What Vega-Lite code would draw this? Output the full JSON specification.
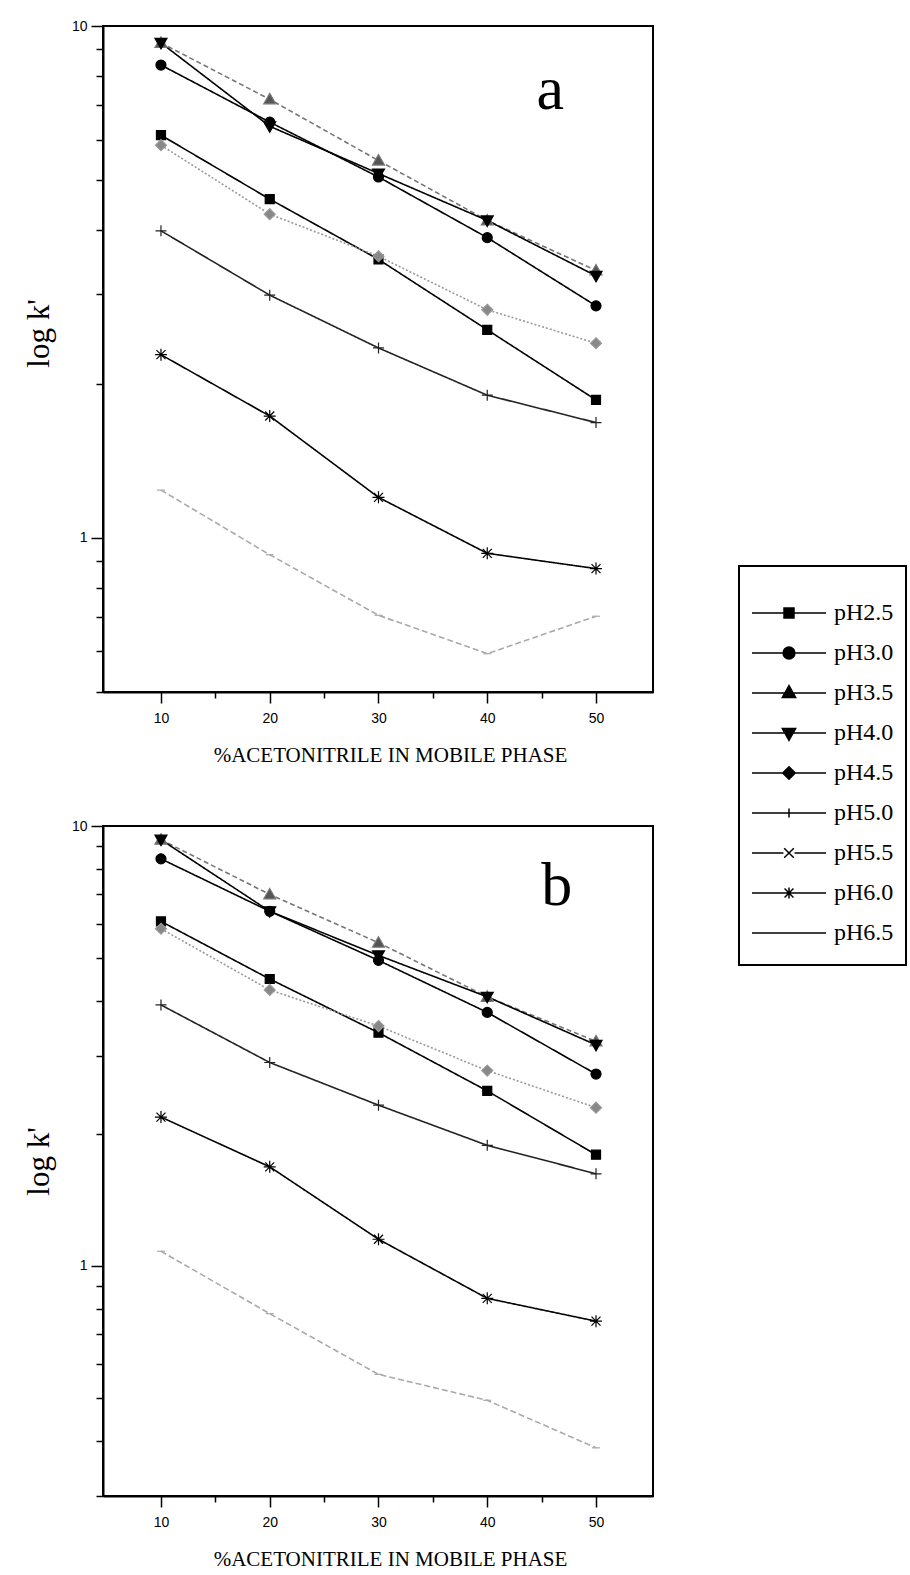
{
  "$schema": "https://vega.github.io/schema/vega-lite/v6.json",
  "background": "white",
  "padding": {"left": 22, "top": 18, "right": 2, "bottom": 2},
  "datasets": {
    "a": [
      {"pH": "pH2.5", "acn": 10, "k": 6.12}, {"pH": "pH2.5", "acn": 20, "k": 4.59}, {"pH": "pH2.5", "acn": 30, "k": 3.50}, {"pH": "pH2.5", "acn": 40, "k": 2.55}, {"pH": "pH2.5", "acn": 50, "k": 1.86},
      {"pH": "pH3.0", "acn": 10, "k": 8.39}, {"pH": "pH3.0", "acn": 20, "k": 6.49}, {"pH": "pH3.0", "acn": 30, "k": 5.07}, {"pH": "pH3.0", "acn": 40, "k": 3.86}, {"pH": "pH3.0", "acn": 50, "k": 2.84},
      {"pH": "pH3.5", "acn": 10, "k": 9.27}, {"pH": "pH3.5", "acn": 20, "k": 7.19}, {"pH": "pH3.5", "acn": 30, "k": 5.46}, {"pH": "pH3.5", "acn": 40, "k": 4.17}, {"pH": "pH3.5", "acn": 50, "k": 3.33},
      {"pH": "pH4.0", "acn": 10, "k": 9.27}, {"pH": "pH4.0", "acn": 20, "k": 6.37}, {"pH": "pH4.0", "acn": 30, "k": 5.15}, {"pH": "pH4.0", "acn": 40, "k": 4.17}, {"pH": "pH4.0", "acn": 50, "k": 3.25},
      {"pH": "pH4.5", "acn": 10, "k": 5.85}, {"pH": "pH4.5", "acn": 20, "k": 4.29}, {"pH": "pH4.5", "acn": 30, "k": 3.55}, {"pH": "pH4.5", "acn": 40, "k": 2.79}, {"pH": "pH4.5", "acn": 50, "k": 2.40},
      {"pH": "pH5.0", "acn": 10, "k": 3.98}, {"pH": "pH5.0", "acn": 20, "k": 2.98}, {"pH": "pH5.0", "acn": 30, "k": 2.35}, {"pH": "pH5.0", "acn": 40, "k": 1.90}, {"pH": "pH5.0", "acn": 50, "k": 1.68},
      {"pH": "pH6.0", "acn": 10, "k": 2.28}, {"pH": "pH6.0", "acn": 20, "k": 1.73}, {"pH": "pH6.0", "acn": 30, "k": 1.20}, {"pH": "pH6.0", "acn": 40, "k": 0.933}, {"pH": "pH6.0", "acn": 50, "k": 0.871},
      {"pH": "pH6.5", "acn": 10, "k": 1.24}, {"pH": "pH6.5", "acn": 20, "k": 0.927}, {"pH": "pH6.5", "acn": 30, "k": 0.706}, {"pH": "pH6.5", "acn": 40, "k": 0.594}, {"pH": "pH6.5", "acn": 50, "k": 0.703}
    ],
    "b": [
      {"pH": "pH2.5", "acn": 10, "k": 6.07}, {"pH": "pH2.5", "acn": 20, "k": 4.49}, {"pH": "pH2.5", "acn": 30, "k": 3.39}, {"pH": "pH2.5", "acn": 40, "k": 2.50}, {"pH": "pH2.5", "acn": 50, "k": 1.79},
      {"pH": "pH3.0", "acn": 10, "k": 8.42}, {"pH": "pH3.0", "acn": 20, "k": 6.40}, {"pH": "pH3.0", "acn": 30, "k": 4.95}, {"pH": "pH3.0", "acn": 40, "k": 3.77}, {"pH": "pH3.0", "acn": 50, "k": 2.73},
      {"pH": "pH3.5", "acn": 10, "k": 9.31}, {"pH": "pH3.5", "acn": 20, "k": 6.99}, {"pH": "pH3.5", "acn": 30, "k": 5.43}, {"pH": "pH3.5", "acn": 40, "k": 4.09}, {"pH": "pH3.5", "acn": 50, "k": 3.24},
      {"pH": "pH4.0", "acn": 10, "k": 9.31}, {"pH": "pH4.0", "acn": 20, "k": 6.40}, {"pH": "pH4.0", "acn": 30, "k": 5.08}, {"pH": "pH4.0", "acn": 40, "k": 4.09}, {"pH": "pH4.0", "acn": 50, "k": 3.18},
      {"pH": "pH4.5", "acn": 10, "k": 5.84}, {"pH": "pH4.5", "acn": 20, "k": 4.24}, {"pH": "pH4.5", "acn": 30, "k": 3.51}, {"pH": "pH4.5", "acn": 40, "k": 2.78}, {"pH": "pH4.5", "acn": 50, "k": 2.29},
      {"pH": "pH5.0", "acn": 10, "k": 3.92}, {"pH": "pH5.0", "acn": 20, "k": 2.90}, {"pH": "pH5.0", "acn": 30, "k": 2.32}, {"pH": "pH5.0", "acn": 40, "k": 1.88}, {"pH": "pH5.0", "acn": 50, "k": 1.62},
      {"pH": "pH6.0", "acn": 10, "k": 2.18}, {"pH": "pH6.0", "acn": 20, "k": 1.68}, {"pH": "pH6.0", "acn": 30, "k": 1.15}, {"pH": "pH6.0", "acn": 40, "k": 0.844}, {"pH": "pH6.0", "acn": 50, "k": 0.749},
      {"pH": "pH6.5", "acn": 10, "k": 1.08}, {"pH": "pH6.5", "acn": 20, "k": 0.779}, {"pH": "pH6.5", "acn": 30, "k": 0.567}, {"pH": "pH6.5", "acn": 40, "k": 0.495}, {"pH": "pH6.5", "acn": 50, "k": 0.386}
    ]
  },
  "resolve": {"scale": {"shape": "independent", "fill": "independent", "stroke": "independent", "strokeDash": "independent", "strokeWidth": "independent"}},
  "vconcat": [
    {
      "width": 550,
      "height": 666,
      "data": {"name": "a"},
      "resolve": {"scale": {"shape": "independent"}},
      "layer": [
        {
          "mark": {"type": "line", "clip": true},
          "encoding": {
            "x": {"field": "acn", "type": "quantitative", "scale": {"domain": [4.67, 55.24], "nice": false, "zero": false},
                  "axis": {"values": [10, 15, 20, 25, 30, 35, 40, 45, 50], "labelExpr": "datum.value % 10 === 0 ? datum.label : ''", "tickSize": {"condition": {"test": "datum.value % 10 === 0", "value": 11}, "value": 6}, "labelPadding": 8, "labelFlush": false, "title": "%ACETONITRILE IN MOBILE PHASE", "titleFontSize": 21, "titlePadding": 19, "titleX": 287}},
            "y": {"field": "k", "type": "quantitative", "scale": {"type": "log", "domain": [0.5, 10], "nice": false},
                  "axis": {"values": [0.5, 0.6, 0.7, 0.8, 0.9, 1, 2, 3, 4, 5, 6, 7, 8, 9, 10], "labelExpr": "datum.value === 1 ? '1' : (datum.value === 10 ? '10' : '')", "tickSize": {"condition": {"test": "datum.value === 1 || datum.value === 10", "value": 12}, "value": 7}, "labelPadding": 4, "labelFlush": false, "labelOverlap": false, "title": "log k'", "titleFontSize": 31, "titlePadding": 16, "titleY": 307}},
            "stroke": {"field": "pH", "type": "nominal", "legend": null, "scale": {"domain": ["pH2.5", "pH3.0", "pH3.5", "pH4.0", "pH4.5", "pH5.0", "pH6.0", "pH6.5"], "range": ["#000000", "#000000", "#777777", "#000000", "#999999", "#222222", "#000000", "#aaaaaa"]}},
            "strokeDash": {"field": "pH", "type": "nominal", "legend": null, "scale": {"domain": ["pH2.5", "pH3.0", "pH3.5", "pH4.0", "pH4.5", "pH5.0", "pH6.0", "pH6.5"], "range": [[1, 0], [1, 0], [5, 3], [1, 0], [2, 2], [1, 0], [1, 0], [6, 3]]}},
            "strokeWidth": {"field": "pH", "type": "ordinal", "legend": null, "scale": {"domain": ["pH2.5", "pH3.0", "pH3.5", "pH4.0", "pH4.5", "pH5.0", "pH6.0", "pH6.5"], "range": [1.6, 1.6, 1.1, 1.6, 1.1, 1.1, 1.6, 1.1]}}
          }
        },
        {
          "mark": {"type": "point", "filled": true, "size": 100, "strokeWidth": 1.2, "opacity": 1},
          "encoding": {
            "x": {"field": "acn", "type": "quantitative"},
            "y": {"field": "k", "type": "quantitative"},
            "fill": {"field": "pH", "type": "nominal", "legend": null, "scale": {"domain": ["pH2.5", "pH3.0", "pH3.5", "pH4.0", "pH4.5", "pH5.0", "pH6.0", "pH6.5"], "range": ["#000000", "#000000", "#555555", "#000000", "#888888", "#222222", "#000000", "#999999"]}},
            "stroke": {"field": "pH", "type": "nominal", "legend": null},
            "shape": {"field": "pH", "type": "nominal", "legend": null,
                      "scale": {"domain": ["pH2.5", "pH3.0", "pH3.5", "pH4.0", "pH4.5", "pH5.0", "pH6.0", "pH6.5"],
                                "range": ["M-0.9,-0.9H0.9V0.9H-0.9Z", "M-1,0A1,1,0,1,0,1,0A1,1,0,1,0,-1,0Z", "M0,-1.2L1.2,0.9L-1.2,0.9Z", "M0,1.2L1.2,-0.9L-1.2,-0.9Z", "M0,-1.1L1.1,0L0,1.1L-1.1,0Z", "M-1.1,0H1.1M0,-1.1V1.1", "M-1.2,0H1.2M0,-1.2V1.2M-0.9,-0.9L0.9,0.9M-0.9,0.9L0.9,-0.9", "M-0.8,0H0.8"]}}
          }
        },
        {
          "mark": {"type": "point", "filled": true, "opacity": 0, "color": "black", "fill": "black", "stroke": "black", "strokeWidth": 1.5},
          "encoding": {
            "x": {"field": "acn", "type": "quantitative"},
            "y": {"field": "k", "type": "quantitative"},
            "shape": {"field": "pH", "type": "nominal",
                      "scale": {"domain": ["pH2.5", "pH3.0", "pH3.5", "pH4.0", "pH4.5", "pH5.0", "pH5.5", "pH6.0", "pH6.5"],
                                "range": ["M-1,0H1M-0.135,-0.135H0.135V0.135H-0.135Z", "M-1,0H1M-0.16,0A0.16,0.16,0,1,0,0.16,0A0.16,0.16,0,1,0,-0.16,0Z", "M-1,0H1M0,-0.2L0.18,0.12L-0.18,0.12Z", "M-1,0H1M0,0.2L0.18,-0.12L-0.18,-0.12Z", "M-1,0H1M0,-0.17L0.17,0L0,0.17L-0.17,0Z", "M-1,0H1M0,-0.12V0.12", "M-1,0H-0.15M0.15,0H1M-0.13,-0.13L0.13,0.13M-0.13,0.13L0.13,-0.13", "M-1,0H1M0,-0.15V0.15M-0.12,-0.12L0.12,0.12M-0.12,0.12L0.12,-0.12", "M-1,0H1"]},
                      "legend": {"orient": "none", "legendX": 636, "legendY": 540, "title": " ", "titleFontSize": 10, "titlePadding": 5, "values": ["pH2.5", "pH3.0", "pH3.5", "pH4.0", "pH4.5", "pH5.0", "pH5.5", "pH6.0", "pH6.5"],
                                 "labelFont": "Liberation Serif", "labelFontSize": 24, "labelColor": "black", "labelOffset": 7, "symbolSize": 5476, "symbolStrokeWidth": 1.5, "symbolOpacity": 1, "strokeColor": "black", "padding": 12, "rowPadding": 0, "clipHeight": 40}}
          }
        },
        {
          "data": {"values": [{"tag": "a"}]},
          "mark": {"type": "text", "font": "Liberation Serif", "fontSize": 62, "baseline": "alphabetic", "align": "center", "color": "black"},
          "encoding": {"text": {"field": "tag"}, "x": {"datum": 45.8}, "y": {"datum": 6.88}}
        }
      ]
    },
    {
      "width": 550,
      "height": 670,
      "data": {"name": "b"},
      "layer": [
        {
          "mark": {"type": "line", "clip": true},
          "encoding": {
            "x": {"field": "acn", "type": "quantitative", "scale": {"domain": [4.67, 55.24], "nice": false, "zero": false},
                  "axis": {"values": [10, 15, 20, 25, 30, 35, 40, 45, 50], "labelExpr": "datum.value % 10 === 0 ? datum.label : ''", "tickSize": {"condition": {"test": "datum.value % 10 === 0", "value": 11}, "value": 6}, "labelPadding": 8, "labelFlush": false, "title": "%ACETONITRILE IN MOBILE PHASE", "titleFontSize": 21, "titlePadding": 19, "titleX": 287}},
            "y": {"field": "k", "type": "quantitative", "scale": {"type": "log", "domain": [0.3, 10], "nice": false},
                  "axis": {"values": [0.3, 0.4, 0.5, 0.6, 0.7, 0.8, 0.9, 1, 2, 3, 4, 5, 6, 7, 8, 9, 10], "labelExpr": "datum.value === 1 ? '1' : (datum.value === 10 ? '10' : '')", "tickSize": {"condition": {"test": "datum.value === 1 || datum.value === 10", "value": 12}, "value": 7}, "labelPadding": 4, "labelFlush": false, "labelOverlap": false, "title": "log k'", "titleFontSize": 31, "titlePadding": 16}},
            "stroke": {"field": "pH", "type": "nominal", "legend": null, "scale": {"domain": ["pH2.5", "pH3.0", "pH3.5", "pH4.0", "pH4.5", "pH5.0", "pH6.0", "pH6.5"], "range": ["#000000", "#000000", "#777777", "#000000", "#999999", "#222222", "#000000", "#aaaaaa"]}},
            "strokeDash": {"field": "pH", "type": "nominal", "legend": null, "scale": {"domain": ["pH2.5", "pH3.0", "pH3.5", "pH4.0", "pH4.5", "pH5.0", "pH6.0", "pH6.5"], "range": [[1, 0], [1, 0], [5, 3], [1, 0], [2, 2], [1, 0], [1, 0], [6, 3]]}},
            "strokeWidth": {"field": "pH", "type": "ordinal", "legend": null, "scale": {"domain": ["pH2.5", "pH3.0", "pH3.5", "pH4.0", "pH4.5", "pH5.0", "pH6.0", "pH6.5"], "range": [1.6, 1.6, 1.1, 1.6, 1.1, 1.1, 1.6, 1.1]}}
          }
        },
        {
          "mark": {"type": "point", "filled": true, "size": 100, "strokeWidth": 1.2, "opacity": 1},
          "encoding": {
            "x": {"field": "acn", "type": "quantitative"},
            "y": {"field": "k", "type": "quantitative"},
            "fill": {"field": "pH", "type": "nominal", "legend": null, "scale": {"domain": ["pH2.5", "pH3.0", "pH3.5", "pH4.0", "pH4.5", "pH5.0", "pH6.0", "pH6.5"], "range": ["#000000", "#000000", "#555555", "#000000", "#888888", "#222222", "#000000", "#999999"]}},
            "stroke": {"field": "pH", "type": "nominal", "legend": null},
            "shape": {"field": "pH", "type": "nominal", "legend": null,
                      "scale": {"domain": ["pH2.5", "pH3.0", "pH3.5", "pH4.0", "pH4.5", "pH5.0", "pH6.0", "pH6.5"],
                                "range": ["M-0.9,-0.9H0.9V0.9H-0.9Z", "M-1,0A1,1,0,1,0,1,0A1,1,0,1,0,-1,0Z", "M0,-1.2L1.2,0.9L-1.2,0.9Z", "M0,1.2L1.2,-0.9L-1.2,-0.9Z", "M0,-1.1L1.1,0L0,1.1L-1.1,0Z", "M-1.1,0H1.1M0,-1.1V1.1", "M-1.2,0H1.2M0,-1.2V1.2M-0.9,-0.9L0.9,0.9M-0.9,0.9L0.9,-0.9", "M-0.8,0H0.8"]}}
          }
        },
        {
          "data": {"values": [{"tag": "b"}]},
          "mark": {"type": "text", "font": "Liberation Serif", "fontSize": 62, "baseline": "alphabetic", "align": "center", "color": "black"},
          "encoding": {"text": {"field": "tag"}, "x": {"datum": 46.4}, "y": {"datum": 6.61}}
        }
      ]
    }
  ],
  "spacing": 134,
  "bounds": "flush",
  "config": {
    "view": {"stroke": "black", "strokeWidth": 2},
    "axis": {"grid": false, "domainColor": "black", "domainWidth": 2, "tickColor": "black", "tickWidth": 1.5, "labelColor": "black", "labelFont": "Liberation Sans", "labelFontSize": 14, "titleFont": "Liberation Serif", "titleFontWeight": "normal", "titleColor": "black"},
    "legend": {"strokeWidth": 2}
  }
}
